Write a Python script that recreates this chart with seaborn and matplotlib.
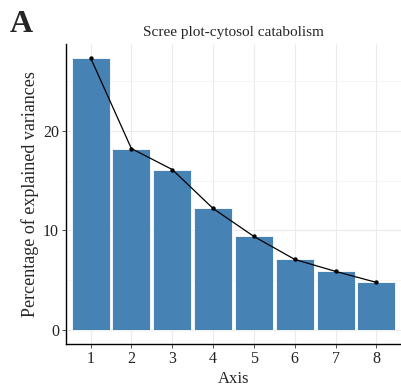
import numpy as np
import pandas as pd
import matplotlib
matplotlib.use("Agg")
import matplotlib.pyplot as plt
from matplotlib.ticker import MultipleLocator
import seaborn as sns

# --- Data ---
axis_ids = [1, 2, 3, 4, 5, 6, 7, 8]
explained = [27.3, 18.2, 16.1, 12.2, 9.4, 7.1, 5.9, 4.8]
y_ticks = [0, 10, 20]

BAR_COLOR = "#4682B4"

sns.set_theme(style="white")
plt.rcParams["font.family"] = ["Liberation Serif", "DejaVu Serif"]

df = pd.DataFrame({"Axis": axis_ids, "Variance": explained})

fig = plt.figure(figsize=(4.01, 3.88), dpi=100)
ax = fig.add_axes([66 / 401, 44 / 388, 335 / 401, 300 / 388])

# light grid like ggplot theme_bw-ish
ax.set_axisbelow(True)
ax.yaxis.set_minor_locator(MultipleLocator(5))
ax.grid(True, which="major", color="#ebebeb", linewidth=0.8)
ax.grid(True, which="minor", axis="y", color="#f2f2f2", linewidth=0.5)

sns.barplot(data=df, x="Axis", y="Variance", native_scale=True, width=0.93,
            color=BAR_COLOR, saturation=1, edgecolor="white", linewidth=0.6, ax=ax)
sns.lineplot(data=df, x="Axis", y="Variance", color="black", linewidth=0.9, ax=ax)
sns.scatterplot(data=df, x="Axis", y="Variance", color="black", s=10,
                edgecolor="black", linewidth=0, ax=ax, zorder=5)

ymax = max(explained)
ax.set_xlim(0.4, 8.6)
ax.set_ylim(-0.05 * ymax, ymax * 1.05)
ax.set_xticks(axis_ids)
ax.set_yticks(y_ticks)
ax.tick_params(axis="both", which="major", length=3, width=0.6, color="#333333",
               labelsize=11.5, labelcolor="#222222", pad=2, left=True, bottom=True)
ax.tick_params(axis="y", which="minor", length=0)

for side in ["top", "right"]:
    ax.spines[side].set_visible(False)
for side in ["left", "bottom"]:
    ax.spines[side].set_color("black")
    ax.spines[side].set_linewidth(1.0)

ax.set_xlabel("Axis", fontsize=12, labelpad=3)
ax.set_ylabel("Percentage of explained variances", fontsize=13, labelpad=3)
ax.set_title("Scree plot-cytosol catabolism", fontsize=11, pad=6)

fig.text(10 / 401, 1 - 32 / 388, "A", fontsize=23, fontweight="bold",
         family=["Liberation Serif"])

fig.savefig("out.png", dpi=100)
